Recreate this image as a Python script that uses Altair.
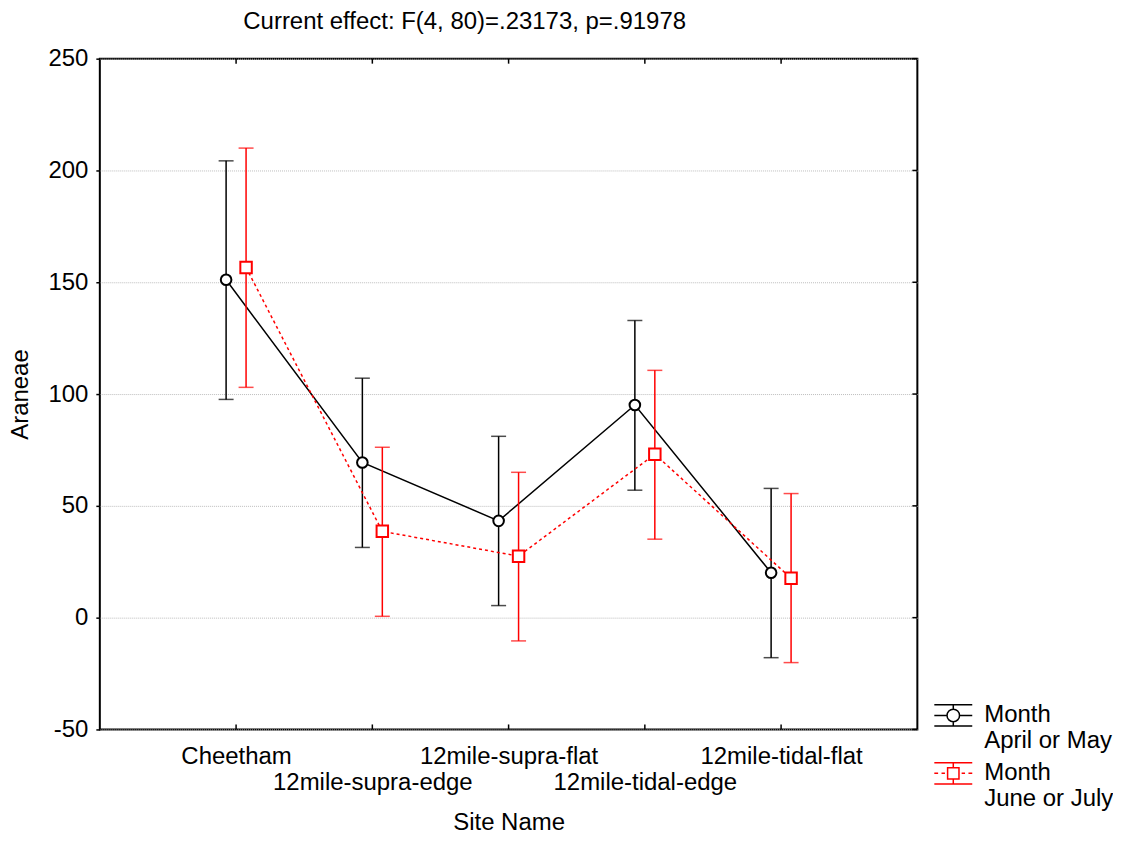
import altair as alt
import pandas as pd

sites = ["Cheetham", "12mile-supra-edge", "12mile-supra-flat", "12mile-tidal-edge", "12mile-tidal-flat"]
months = ["April or May", "June or July"]

mean_apr = [151.1, 69.4, 43.3, 95.1, 20.1]
low_apr = [97.6, 31.4, 5.4, 57.0, -17.9]
high_apr = [204.3, 107.1, 81.1, 132.9, 57.8]

mean_jun = [156.6, 38.6, 27.5, 73.1, 17.6]
low_jun = [103.0, 0.6, -10.4, 35.1, -20.1]
high_jun = [210.0, 76.2, 65.0, 110.6, 55.5]

y_ticks = [-50, 0, 50, 100, 150, 200, 250]

rows = []
for m, means, lows, highs in [(months[0], mean_apr, low_apr, high_apr),
                              (months[1], mean_jun, low_jun, high_jun)]:
    for i, s in enumerate(sites):
        rows.append({"month": m, "site": s, "idx": i, "mean": means[i],
                     "low": lows[i], "high": highs[i]})
df = pd.DataFrame(rows)

FONT = "Liberation Sans"
W, H = 819, 672

x_enc = alt.X("site:N", sort=sites, scale=alt.Scale(type="point", padding=1),
              title="Site Name",
              axis=alt.Axis(labelExpr="indexof(['12mile-supra-edge','12mile-tidal-edge'], datum.value) >= 0 ? ['', datum.label] : datum.label",
                            labelAngle=0, labelOverlap=False, labelLimit=400, labelBound=False,
                            labelFlush=False, ticks=False, domain=False, labelBaseline="top",
                            labelPadding=15, labelLineHeight=26, titleY=93, titleBaseline="middle"))
y_scale = alt.Scale(domain=[-50, 250], nice=False)

# legend symbols: error bar with marker, drawn as paths in [-1, 1]
sym_apr = ("M-1,-0.56H1M-1,0.56H1M-1,0H-0.33M0.33,0H1M0,-0.56V-0.33M0,0.33V0.56"
           "M-0.33,0A0.33,0.33 0 1,0 0.33,0A0.33,0.33 0 1,0 -0.33,0")
sym_jun = ("M-1,-0.56H1M-1,0.56H1M-1,0H-0.8M-0.62,0H-0.44M0.44,0H0.62M0.8,0H1"
           "M0,-0.56V-0.3M0,0.3V0.56M-0.3,-0.3H0.3V0.3H-0.3Z")

base = alt.Chart(df)
layers = []
styles = [(months[0], "#000000", -10, "circle", 113, []),
          (months[1], "#ff0000", 10, "square", 132, [3, 3])]
for m, col, off, shp, sz, dash in styles:
    b = base.transform_filter(alt.datum.month == m)
    layers.append(b.mark_rule(color=col, strokeWidth=1.5, xOffset=off).encode(
        x=x_enc, y=alt.Y("low:Q", scale=y_scale), y2="high:Q"))
    for f in ["low", "high"]:
        layers.append(b.mark_tick(color=col, size=15, thickness=1.5, xOffset=off,
                                  orient="horizontal").encode(
            x=x_enc, y=alt.Y(f"{f}:Q", scale=y_scale)))
    line_kw = dict(color=col, strokeWidth=1.5, xOffset=off)
    if dash:
        line_kw["strokeDash"] = dash
    layers.append(b.mark_line(**line_kw).encode(
        x=x_enc, y=alt.Y("mean:Q", scale=y_scale), order="idx:Q"))
    layers.append(b.mark_point(shape=shp, size=sz, filled=False, fill="white", fillOpacity=1,
                               stroke=col, strokeWidth=2, opacity=1, xOffset=off).encode(
        x=x_enc, y=alt.Y("mean:Q", scale=y_scale)))

# invisible layer that only supplies the legend
legend = alt.Legend(title=None, orient="none", legendX=835, legendY=638,
                    labelExpr="['Month', datum.label]", labelFont=FONT, labelFontSize=24,
                    labelColor="black", labelLimit=300, labelOffset=11, labelBaseline="middle",
                    symbolSize=1444, symbolStrokeWidth=1.5,
                    symbolOpacity=1, rowPadding=-7, padding=0)
layers.append(base.mark_point(opacity=0, strokeWidth=1.5, filled=False).encode(
    x=x_enc, y=alt.Y("mean:Q", scale=y_scale),
    color=alt.Color("month:N", scale=alt.Scale(domain=months, range=["#000000", "#ff0000"]),
                    legend=legend),
    shape=alt.Shape("month:N", scale=alt.Scale(domain=months, range=[sym_apr, sym_jun]),
                    legend=legend)))

# inward frame ticks on bottom, top and right
ticks_x = pd.DataFrame({"site": sites})
ticks_y = pd.DataFrame({"v": y_ticks})
layers.append(alt.Chart(ticks_x).mark_rule(color="black", strokeWidth=1.5).encode(
    x=x_enc, y=alt.value(H), y2=alt.value(H - 5)))
layers.append(alt.Chart(ticks_x).mark_rule(color="black", strokeWidth=1.5).encode(
    x=x_enc, y=alt.value(0), y2=alt.value(5)))
layers.append(alt.Chart(ticks_y).mark_rule(color="black", strokeWidth=1.5).encode(
    y=alt.Y("v:Q", scale=y_scale), x=alt.value(W), x2=alt.value(W - 5)))

chart = alt.layer(*layers).encode(
    y=alt.Y("mean:Q", scale=y_scale, title="Araneae",
            axis=alt.Axis(values=y_ticks, tickSize=4, tickColor="black", tickWidth=1.5,
                          labelExpr="'' + datum.value",
                          labelPadding=8, domain=False, titleX=-79, titleBaseline="middle"))
).properties(
    width=W, height=H,
    autosize=alt.AutoSizeParams(type="none"),
    padding={"left": 92, "top": 50, "right": 196, "bottom": 112},
    title=alt.TitleParams("Current effect: F(4, 80)=.23173, p=.91978", font=FONT, fontSize=24,
                          fontWeight="normal", color="black", anchor="middle", dx=-44, dy=10,
                          baseline="alphabetic", offset=4),
).configure_view(
    stroke="black", strokeWidth=2
).configure_axis(
    labelFont=FONT, titleFont=FONT, labelFontSize=24, titleFontSize=24,
    labelColor="black", titleColor="black", titleFontWeight="normal",
    gridColor="#bdbdbd", gridDash=[1, 1], gridWidth=1
).configure_legend(
    labelFont=FONT
)

chart.save("out.html", embed_options={"renderer": "svg", "actions": False})
